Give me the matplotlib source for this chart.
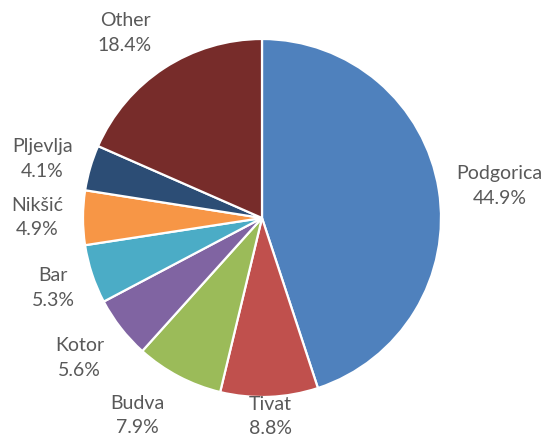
import numpy as np
import matplotlib.pyplot as plt

cities = ['Podgorica', 'Tivat', 'Budva', 'Kotor', 'Bar', 'Nikšić', 'Pljevlja', 'Other']
shares = [44.9, 8.8, 7.9, 5.6, 5.3, 4.9, 4.1, 18.4]
colors = ['#4F81BD', '#C0504D', '#9BBB59', '#8064A2', '#4BACC6',
          '#F79646', '#2C4D75', '#772C2A']
# label placement: distance in pie radii, angle nudge in degrees
label_dist = [1.34, 1.11, 1.305, 1.285, 1.23, 1.257, 1.27, 1.285]
label_nudge = [-1.5, 0, -4.5, -0.4, 0.3, 0, 1.2, 3.4]

plt.rcParams['font.family'] = ['Lato', 'DejaVu Sans']

W, H = 546, 446
cx, cy, R = 262, 218, 179
fig = plt.figure(figsize=(W / 100, H / 100), dpi=100)
ax = fig.add_axes([0, 0, 1, 1])

wedges, _ = ax.pie(shares, colors=colors, startangle=90, counterclock=False,
                   wedgeprops=dict(edgecolor='white', linewidth=1.6))

for w, name, s, d, nd in zip(wedges, cities, shares, label_dist, label_nudge):
    ang = np.deg2rad((w.theta1 + w.theta2) / 2 + nd)
    ax.text(d * np.cos(ang), d * np.sin(ang), f'{name}\n{s:.1f}%',
            ha='center', va='center', fontsize=14, color='#595959',
            linespacing=1.55)

ax.set_xlim(-cx / R, (W - cx) / R)
ax.set_ylim(-(H - cy) / R, cy / R)
ax.set_aspect('auto')
ax.axis('off')

plt.savefig('out.png', dpi=100)
